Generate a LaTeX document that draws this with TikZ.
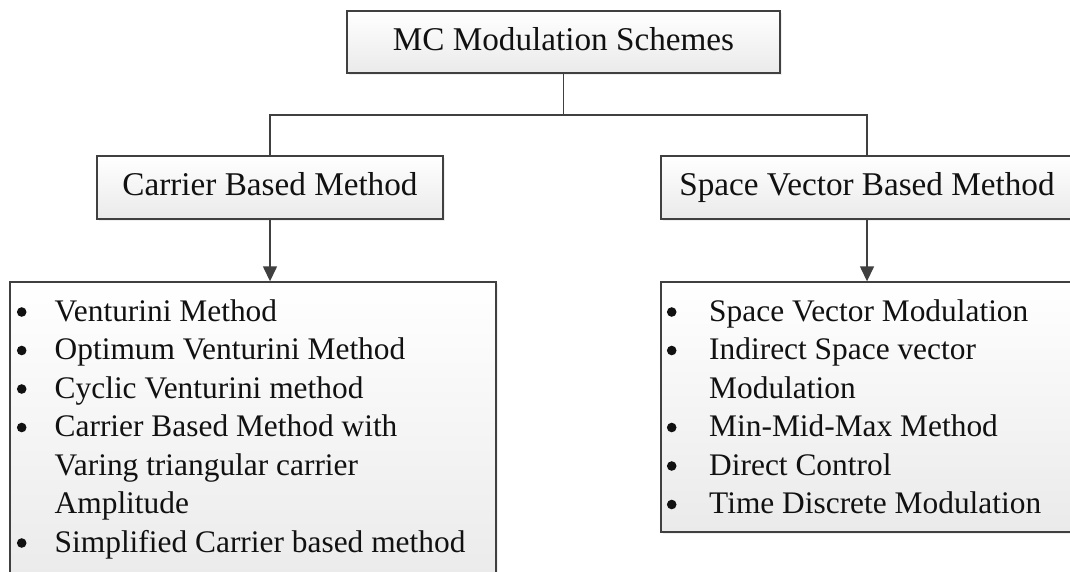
\documentclass[tikz,border=0pt]{standalone}
\usepackage{fontspec}
\setmainfont{Liberation Serif}
\usetikzlibrary{arrows.meta,shadows}
\definecolor{linegray}{HTML}{404040}
\definecolor{boxbot}{HTML}{EAEAEA}
\definecolor{textblack}{HTML}{111111}
\newcommand{\mybullet}[1]{\makebox[#1][l]{\tikz[x=1pt,y=1pt,baseline=0pt]{\path (0,0) rectangle (11,0);\fill[textblack] (5.5,9) circle (4.8);}}}
\begin{document}
\begin{tikzpicture}[x=1pt,y=-1pt,
  box/.style={draw=linegray, line width=1.4pt, top color=white, bottom color=boxbot, inner sep=0pt,
    drop shadow={shadow xshift=2pt,shadow yshift=-2pt,opacity=0.12}},
  titlebox/.style={box, font=\fontsize{33.2}{40}\selectfont, text=textblack, text height=22pt, text depth=6pt},
  conn/.style={draw=linegray, line width=1.4pt},
  arr/.style={conn, -{Triangle[width=14pt,length=15pt]}},
  listtext/.style={anchor=base west, inner sep=0pt, text=textblack, font=\fontsize{31.4}{38.5}\selectfont}
]
\useasboundingbox (0,0) rectangle (1070,571);
\fill[white] (0,0) rectangle (1070,571);
\clip (0,0) rectangle (1070,571);

% boxes
\node[titlebox, minimum width=433pt, minimum height=62pt] (top) at (563.5,42) {MC Modulation Schemes};
\node[titlebox, minimum width=346pt, minimum height=63pt] (carrier) at (270,187.5) {Carrier Based Method};
\node[titlebox, minimum width=412pt, minimum height=63pt] (sv) at (867,187.5) {Space Vector Based Method};
\node[box, minimum width=486pt, minimum height=308pt] (llist) at (253,436) {};
\node[box, minimum width=412pt, minimum height=250pt] (rlist) at (867,407) {};

% list texts
\node[listtext] (ltext) at (16,321) {\begin{tabular}[t]{@{}l@{}}
\mybullet{38.5pt}Venturini Method\\
\mybullet{38.5pt}Optimum Venturini Method\\
\mybullet{38.5pt}Cyclic Venturini method\\
\mybullet{38.5pt}Carrier Based Method with\\
\hspace*{38.5pt}Varing triangular carrier\\
\hspace*{38.5pt}Amplitude\\
\mybullet{38.5pt}Simplified Carrier based method
\end{tabular}};
\node[listtext] (rtext) at (666,321) {\begin{tabular}[t]{@{}l@{}}
\mybullet{43pt}Space Vector Modulation\\
\mybullet{43pt}Indirect Space vector\\
\hspace*{43pt}Modulation\\
\mybullet{43pt}Min-Mid-Max Method\\
\mybullet{43pt}Direct Control\\
\mybullet{43pt}Time Discrete Modulation
\end{tabular}};

% connectors
\coordinate (bus) at (0,115);
\draw[conn] (top.south) -- (top.south |- bus);
\draw[conn] (carrier.north) -- (carrier.north |- bus) -- (sv.north |- bus) -- (sv.north);
\draw[arr] (carrier.south) -- (carrier.south |- llist.north);
\draw[arr] (sv.south) -- (sv.south |- rlist.north);
\end{tikzpicture}
\end{document}
